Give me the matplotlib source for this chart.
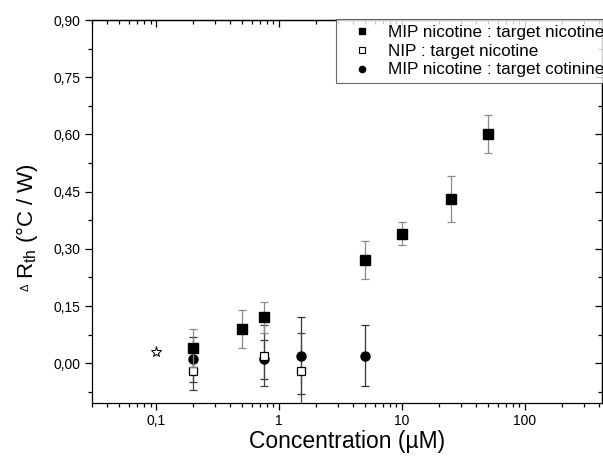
import matplotlib
matplotlib.use("Agg")
import matplotlib.pyplot as plt
from matplotlib.lines import Line2D
from matplotlib.ticker import FixedLocator, FuncFormatter, NullFormatter

plt.rcParams['font.family'] = ['Liberation Sans', 'DejaVu Sans']
plt.rcParams['mathtext.fontset'] = 'custom'
plt.rcParams['mathtext.rm'] = 'Liberation Sans'
plt.rcParams['mathtext.it'] = 'Liberation Sans'

# MIP nicotine : target nicotine
mip_nic_x = [0.2, 0.5, 0.75, 5, 10, 25, 50]
mip_nic_y = [0.04, 0.09, 0.12, 0.27, 0.34, 0.43, 0.60]
mip_nic_err = [0.05, 0.05, 0.04, 0.05, 0.03, 0.06, 0.05]

# NIP : target nicotine
nip_nic_x = [0.2, 0.75, 1.5]
nip_nic_y = [-0.02, 0.02, -0.02]
nip_nic_err = [0.05, 0.08, 0.10]

# MIP nicotine : target cotinine
mip_cot_x = [0.2, 0.75, 1.5, 5]
mip_cot_y = [0.01, 0.01, 0.02, 0.02]
mip_cot_err = [0.06, 0.05, 0.10, 0.08]

# extra point (star)
star_x = [0.1]
star_y = [0.03]

legend_labels = ["MIP nicotine : target nicotine", "NIP : target nicotine",
                 "MIP nicotine : target cotinine"]

y_ticks = [0.00, 0.15, 0.30, 0.45, 0.60, 0.75, 0.90]
x_ticks = [0.1, 1, 10, 100]
x_ticklabels = ["0,1", "1", "10", "100"]

W, H = 603, 459
fig = plt.figure(figsize=(W / 100, H / 100), dpi=100)
ax = fig.add_axes([91.7 / W, 1 - 403.3 / H, (602 - 91.7) / W, (403.3 - 20) / H])

ms = 6.5
cap = 3
ax.errorbar(mip_cot_x, mip_cot_y, yerr=mip_cot_err, fmt='o', color='black',
            ms=ms, ecolor='#333333', elinewidth=0.9, capsize=cap, capthick=0.9, zorder=3)
ax.errorbar(nip_nic_x, nip_nic_y, yerr=nip_nic_err, fmt='s', mfc='white', mec='black',
            mew=0.9, ms=ms - 0.5, ecolor='#444444', elinewidth=0.9, capsize=cap,
            capthick=0.9, zorder=3)
ax.errorbar(mip_nic_x, mip_nic_y, yerr=mip_nic_err, fmt='s', color='black',
            ms=ms, ecolor='#8a8a8a', elinewidth=0.9, capsize=cap, capthick=0.9, zorder=4)
ax.plot(star_x, star_y, marker='*', ls='none', mfc='white', mec='black', mew=0.7, ms=8)

ax.set_xscale('log')
ax.set_xlim(0.0299, 423)
ax.set_ylim(-0.105, 0.90)

y_minor = [-0.075 + 0.15 * i for i in range(7)]
x_minor = [m * 10 ** e for e in range(-2, 3) for m in range(2, 10)]

ax.yaxis.set_major_locator(FixedLocator(y_ticks))
ax.yaxis.set_minor_locator(FixedLocator(y_minor))
ax.yaxis.set_major_formatter(FuncFormatter(lambda v, p: f"{v:.2f}".replace('.', ',')))
ax.xaxis.set_major_locator(FixedLocator(x_ticks))
ax.xaxis.set_major_formatter(FuncFormatter(
    lambda v, p: x_ticklabels[x_ticks.index(v)] if v in x_ticks else ""))
ax.xaxis.set_minor_locator(FixedLocator(x_minor))
ax.xaxis.set_minor_formatter(NullFormatter())

ax.tick_params(axis='both', which='major', direction='out', length=5, width=0.9,
               labelsize=10, pad=3, colors='black')
ax.tick_params(axis='both', which='minor', direction='out', length=3, width=0.9)

# inward ticks on top and right
top = ax.secondary_xaxis('top')
top.xaxis.set_major_locator(FixedLocator(x_ticks))
top.xaxis.set_minor_locator(FixedLocator(x_minor))
top.xaxis.set_major_formatter(NullFormatter())
top.xaxis.set_minor_formatter(NullFormatter())
top.tick_params(which='major', direction='in', length=5, width=0.9)
top.tick_params(which='minor', direction='in', length=3, width=0.9)
right = ax.secondary_yaxis('right')
right.yaxis.set_major_locator(FixedLocator(y_ticks))
right.yaxis.set_minor_locator(FixedLocator(y_minor))
right.yaxis.set_major_formatter(NullFormatter())
right.tick_params(which='major', direction='in', length=5, width=0.9)
right.tick_params(which='minor', direction='in', length=3, width=0.9)

for s in ax.spines.values():
    s.set_linewidth(0.9)
top.spines['top'].set_linewidth(0.9)
right.spines['right'].set_linewidth(0.9)

ax.set_xlabel("Concentration (µM)", fontsize=16.5, labelpad=1)

fig.text(27 / W, 1 - 279 / H, "R$_{\\mathregular{th}}$ (°C / W)", rotation=90,
         ha='center', va='bottom', fontsize=16)
fig.text(26 / W, 1 - 291 / H, "Δ", rotation=90, ha='center', va='bottom', fontsize=8)

handles = [
    Line2D([], [], marker='s', ls='none', color='black', ms=4.5),
    Line2D([], [], marker='s', ls='none', mfc='white', mec='black', mew=0.8, ms=4.5),
    Line2D([], [], marker='o', ls='none', color='black', ms=4.5),
]
leg = fig.legend(handles, legend_labels, loc='upper left',
                 bbox_to_anchor=(336 / W, 1 - 19 / H), fontsize=12.3,
                 frameon=True, fancybox=False, borderaxespad=0, borderpad=0.35,
                 labelspacing=0.22, handlelength=2.4, handletextpad=0.3)
leg.get_frame().set_edgecolor('#444444')
leg.get_frame().set_linewidth(0.8)

fig.savefig("out.png", dpi=100)
